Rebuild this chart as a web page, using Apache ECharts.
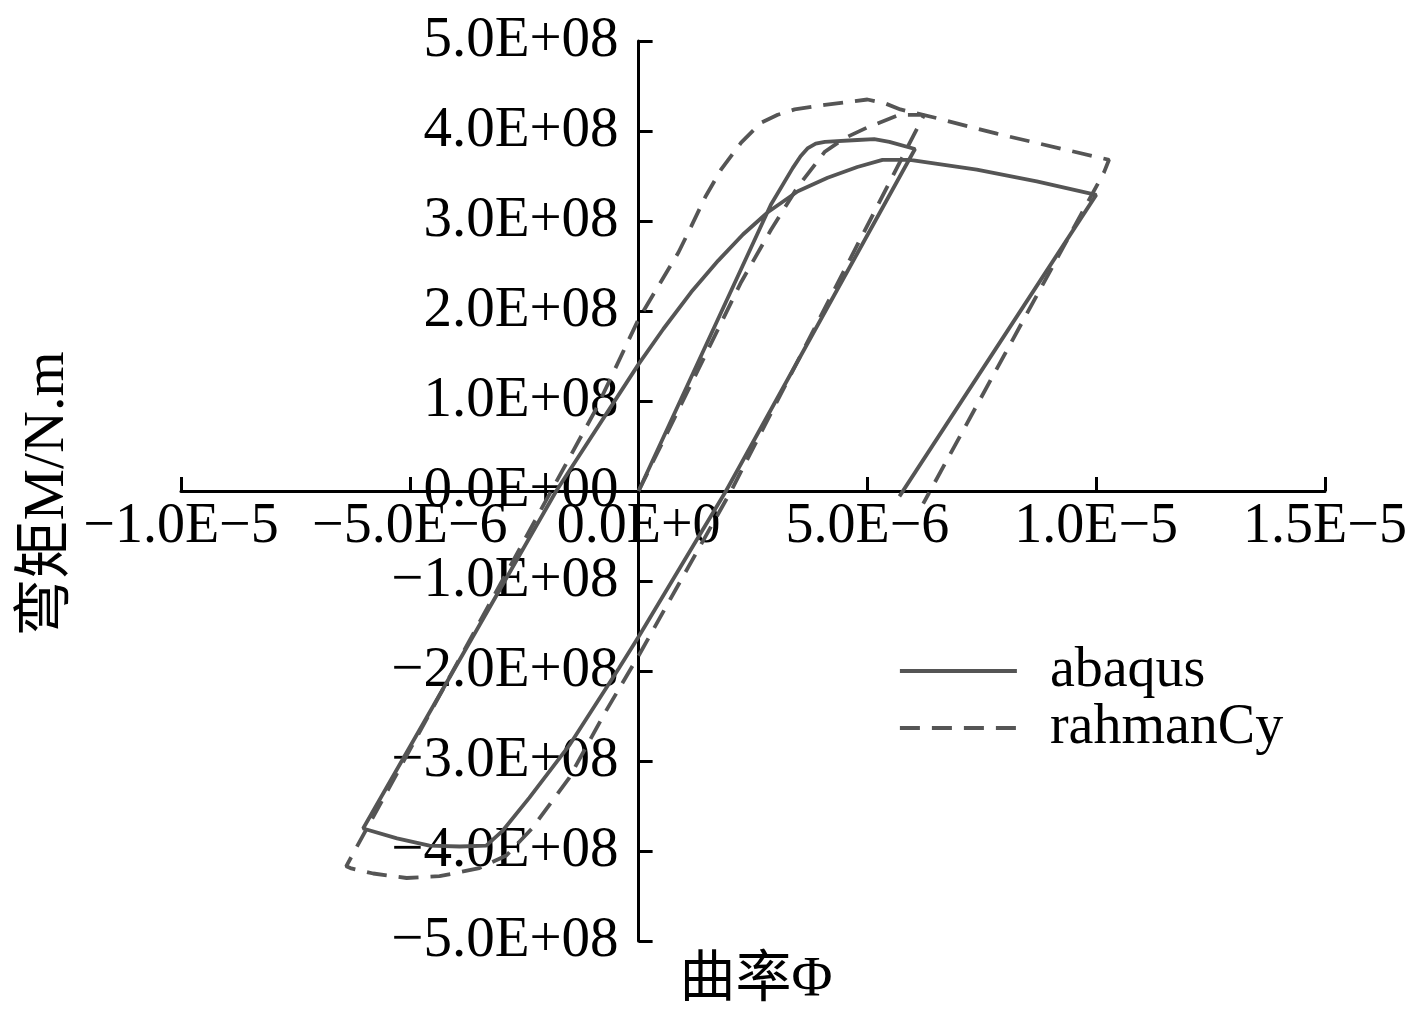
<!DOCTYPE html>
<html lang="zh">
<head>
    <meta charset="UTF-8">
    <title>弯矩-曲率</title>
    <script src="https://cdn.jsdelivr.net/npm/echarts@6/dist/echarts.min.js"></script>
</head>
<style>
    html, body {
        margin: 0;
        padding: 0;
        background: #fff;
    }
    .chart {
        width: 1417px;
        height: 1026px;
    }
</style>
<body>
<div id="chart" class="chart"></div>

<script>
    // curvature in 1E-6, moment in 1E+08 N.m
    const PHI_UNIT = 1e-6
    const M_UNIT = 1e8

    const abaqusPhi = [0, 2.89, 3.37, 3.54, 3.70, 3.87, 4.07, 4.78, 5.15, 5.48, 6.04,
        1.91, 0, -0.43, -1.52, -2.39, -2.98, -3.33, -3.91, -4.57, -5.28, -6.02,
        -1.80, 0, 0.54, 1.15, 1.74, 2.28, 2.83, 3.48, 4.13, 4.78, 5.33, 5.93,
        7.39, 8.70, 10.0, 5.70]
    const abaqusM = [0, 3.18, 3.59, 3.72, 3.81, 3.86, 3.88, 3.90, 3.91, 3.88, 3.80,
        0, -1.62, -1.97, -2.83, -3.41, -3.78, -3.94, -3.95, -3.94, -3.86, -3.75,
        0, 1.41, 1.80, 2.21, 2.56, 2.85, 3.10, 3.33, 3.48, 3.60, 3.68, 3.68,
        3.57, 3.44, 3.29, -0.06]

    const rahmanPhi = [0, 2.24, 2.89, 3.48, 4.07, 4.50, 5.00, 5.70, 6.24,
        2.02, 0, -0.72, -1.52, -2.33, -2.89, -3.48, -4.35, -5.07, -5.80, -6.30, -6.39,
        -1.91, -0.93, 0, 0.87, 1.15, 1.46, 1.80, 2.24, 2.67, 3.04, 3.41, 4.07, 5.00,
        5.37, 5.72, 6.46, 7.83, 10.28, 10.17, 6.22]
    const rahmanM = [0, 2.32, 2.90, 3.38, 3.77, 3.92, 4.04, 4.18, 4.18,
        0, -1.83, -2.45, -3.19, -3.75, -4.05, -4.19, -4.28, -4.30, -4.25, -4.19, -4.17,
        0, 0.91, 1.91, 2.65, 2.94, 3.27, 3.57, 3.87, 4.09, 4.18, 4.24, 4.29, 4.35,
        4.31, 4.24, 4.15, 3.97, 3.68, 3.54, -0.14]

    const xTickLabels = ['−1.0E−5', '−5.0E−6', '0.0E+0', '5.0E−6', '1.0E−5', '1.5E−5']
    const yTickLabels = ['−5.0E+08', '−4.0E+08', '−3.0E+08', '−2.0E+08', '−1.0E+08',
        '0.0E+00', '1.0E+08', '2.0E+08', '3.0E+08', '4.0E+08', '5.0E+08']

    const X_MIN = -1e-5, X_MAX = 1.5e-5, X_STEP = 5e-6
    const Y_MIN = -5e8, Y_MAX = 5e8, Y_STEP = 1e8

    function pairs(xs, ys) {
        let out = []
        for (let i = 0; i < xs.length; i++) {
            out.push([xs[i] * PHI_UNIT, ys[i] * M_UNIT])
        }
        return out
    }

    const FONT = "'Liberation Serif', 'Times New Roman', 'Noto Sans CJK SC', serif"
    const LINE_COLOR = '#555555'

    // grid box, the axes are moved onto the zero lines with offset
    const G_LEFT = 181, G_RIGHT = 92, G_TOP = 41, G_BOTTOM = 85
    const W = 1417, H = 1026
    const gridW = W - G_LEFT - G_RIGHT
    const gridH = H - G_TOP - G_BOTTOM
    const yAxisShift = gridW * (0 - X_MIN) / (X_MAX - X_MIN)
    const xAxisShift = gridH * (0 - Y_MIN) / (Y_MAX - Y_MIN)

    let option = {
        animation: false,
        backgroundColor: '#fff',
        grid: {
            left: G_LEFT,
            right: G_RIGHT,
            top: G_TOP,
            bottom: G_BOTTOM,
            containLabel: false,
            outerBoundsMode: 'none'
        },
        legend: {
            orient: 'vertical',
            left: 893,
            top: 638,
            itemWidth: 117,
            itemHeight: 4,
            itemGap: 1,
            data: ['abaqus', 'rahmanCy'],
            itemStyle: {opacity: 0},
            lineStyle: {width: 3.8},
            textStyle: {
                fontFamily: FONT,
                fontSize: 56,
                color: '#000',
                padding: [0, 0, 0, 28]
            }
        },
        xAxis: {
            type: 'value',
            min: X_MIN,
            max: X_MAX,
            interval: X_STEP,
            offset: -xAxisShift,
            axisLine: {
                onZero: false,
                lineStyle: {color: '#000', width: 3}
            },
            axisTick: {
                inside: true,
                length: 14,
                lineStyle: {color: '#000', width: 3}
            },
            axisLabel: {
                margin: 8,
                fontFamily: FONT,
                fontSize: 56,
                color: '#000',
                formatter: function (v) {
                    return xTickLabels[Math.round((v - X_MIN) / X_STEP)]
                }
            },
            splitLine: {show: false}
        },
        yAxis: {
            type: 'value',
            min: Y_MIN,
            max: Y_MAX,
            interval: Y_STEP,
            offset: -yAxisShift,
            axisLine: {
                onZero: false,
                lineStyle: {color: '#000', width: 3}
            },
            axisTick: {
                inside: true,
                length: 14,
                lineStyle: {color: '#000', width: 3}
            },
            axisLabel: {
                margin: 20,
                fontFamily: FONT,
                fontSize: 57,
                color: '#000',
                formatter: function (v) {
                    return yTickLabels[Math.round((v - Y_MIN) / Y_STEP)]
                }
            },
            splitLine: {show: false}
        },
        graphic: [
            {
                type: 'text',
                x: 756,
                y: 981,
                style: {
                    text: '曲率Φ',
                    font: '56px ' + FONT,
                    fill: '#000',
                    align: 'center',
                    verticalAlign: 'middle',
                    textAlign: 'center',
                    textVerticalAlign: 'middle'
                }
            },
            {
                type: 'text',
                x: 48,
                y: 494,
                rotation: Math.PI / 2,
                style: {
                    text: '弯矩M/N.m',
                    font: '58px ' + FONT,
                    fill: '#000',
                    align: 'center',
                    verticalAlign: 'middle',
                    textAlign: 'center',
                    textVerticalAlign: 'middle'
                }
            }
        ],
        series: [
            {
                name: 'abaqus',
                type: 'line',
                symbol: 'none',
                data: pairs(abaqusPhi, abaqusM),
                lineStyle: {color: LINE_COLOR, width: 3.8},
                itemStyle: {color: LINE_COLOR}
            },
            {
                name: 'rahmanCy',
                type: 'line',
                symbol: 'none',
                data: pairs(rahmanPhi, rahmanM),
                lineStyle: {color: LINE_COLOR, width: 3.8, type: [20, 12]},
                itemStyle: {color: LINE_COLOR}
            }
        ]
    }

    let chart = echarts.init(document.getElementById('chart'))
    chart.setOption(option)
</script>
</body>
</html>
